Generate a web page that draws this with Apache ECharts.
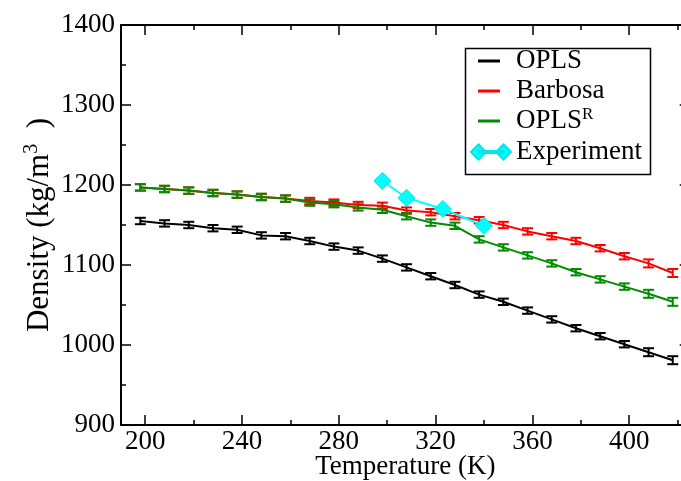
<!DOCTYPE html>
<html>
<head>
<meta charset="utf-8">
<script src="https://cdn.jsdelivr.net/npm/echarts@6/dist/echarts.min.js"></script>
<style>
html,body{margin:0;padding:0;background:#fff;}
#c{width:681px;height:481px;}
</style>
</head>
<body>
<div id="c"></div>
<script>
// ---- data ----
const temps = [198,208,218,228,238,248,258,268,278,288,298,308,318,328,338,348,358,368,378,388,398,408,418];
const oplsVals    = [1155,1152,1150,1146,1144,1137,1136,1130,1123,1118,1108,1097,1086,1075,1063,1054,1043,1032,1021,1011,1001,991,981];
const barbosaVals = [1197,1195,1193,1190,1188,1185,1183,1180,1178,1175,1174,1168,1166,1161,1156,1150,1142,1136,1130,1121,1111,1102,1090];
const oplsRVals   = [1197,1195,1193,1190,1188,1185,1183,1178,1176,1172,1169,1161,1153,1149,1132,1122,1112,1102,1091,1082,1073,1064,1054];
const oplsErr     = [4,4,4,4,4,4,4,4,4,4,4,4,4,4,4,4,4,4,4,4,4,5,5];
const barbosaErr  = [4,4,4,4,4,4,4,4,4,4,4,4,4,4,4,4,4,4,4,4,4,5,5];
const oplsRErr    = [4,4,4,4,4,4,4,4,4,4,4,4,4,4,4,4,4,4,4,4,4,5,5];
const expTemps = [298,308,323,340];
const expVals  = [1205,1184,1170,1149];
const xMajorTicks = [200,240,280,320,360,400];
const xMinorTicks = [220,260,300,340,380,420];
const seriesNames = ['OPLS','Barbosa','OPLS^R','Experiment'];

const FONT = 'Liberation Serif';
const chart = echarts.init(document.getElementById('c'), null, {renderer:'canvas'});

function lineData(xs, ys){ return xs.map((x,i)=>[x, ys[i]]); }
function errData(xs, ys, es){ return xs.map((x,i)=>[x, ys[i], es[i]]); }

function errSeries(name, xs, ys, es, color){
  return {
    type:'custom', name:name, data: errData(xs, ys, es),
    encode:{x:0, y:1}, silent:true, z:3,
    renderItem: function(params, api){
      const x = api.value(0), y = api.value(1), e = api.value(2);
      const t = api.coord([x, y + e]);
      const b = api.coord([x, y - e]);
      const hw = 5.5;
      const st = {stroke: color, lineWidth: 2, fill: null};
      return {type:'group', children:[
        {type:'line', shape:{x1:t[0], y1:t[1], x2:b[0], y2:b[1]}, style:st},
        {type:'line', shape:{x1:t[0]-hw, y1:t[1], x2:t[0]+hw, y2:t[1]}, style:st},
        {type:'line', shape:{x1:b[0]-hw, y1:b[1], x2:b[0]+hw, y2:b[1]}, style:st}
      ]};
    }
  };
}
function lineSeries(name, xs, ys, color){
  return {type:'line', name:name, data: lineData(xs, ys), symbol:'none',
    lineStyle:{color:color, width:2}, itemStyle:{color:color}, z:3, animation:false};
}

const axisLineStyle = {show:true, lineStyle:{color:'#000', width:2}};
const tickStyle = {color:'#000', width:1.5};

function xAx(pos, ticks, len, showLine, showLabel){
  return {
    type:'value', min:190, max:425, position:pos, offset:0,
    axisLine: showLine ? axisLineStyle : {show:false},
    axisTick:{show:true, inside:true, length:len, customValues:ticks, lineStyle:tickStyle},
    axisLabel: showLabel ? {show:true, customValues:ticks, fontFamily:FONT, fontSize:27, color:'#000', margin:3,
      formatter: v => String(v)} : {show:false},
    splitLine:{show:false}
  };
}
function yAx(pos, showLabel){
  return {
    type:'value', min:900, max:1400, interval:100, position:pos, offset:0,
    axisLine: axisLineStyle,
    axisTick:{show:true, inside:true, length:10, lineStyle:tickStyle},
    minorTick:{show:true, splitNumber:2, length:5, lineStyle:tickStyle},
    axisLabel: showLabel ? {show:true, fontFamily:FONT, fontSize:27, color:'#000', margin:6,
      formatter: v => String(v)} : {show:false},
    splitLine:{show:false}
  };
}

const xAxes = [
  Object.assign(xAx('bottom', xMajorTicks, 10, true, true), {
    name:'Temperature (K)', nameLocation:'middle', nameGap:28, nameMoveOverlap:false,
    nameTextStyle:{fontFamily:FONT, fontSize:27, color:'#000'}
  }),
  xAx('bottom', xMinorTicks, 5, false, false),
  xAx('top', xMajorTicks, 10, true, false),
  xAx('top', xMinorTicks, 5, false, false)
];
const yAxes = [
  Object.assign(yAx('left', true), {
    name:'Density (kg/m{sup|3}  )', nameLocation:'middle', nameGap:63, nameMoveOverlap:false,
    nameTextStyle:{fontFamily:FONT, fontSize:31, color:'#000',
      rich:{sup:{fontFamily:FONT, fontSize:20, color:'#000', verticalAlign:'top', padding:[0,0,16,0]}}}
  }),
  yAx('right', false)
];

const legendRich = {sup:{fontFamily:FONT, fontSize:17, color:'#000', verticalAlign:'top', padding:[0,0,10,0]}};

const option = {
  animation:false,
  backgroundColor:'#fff',
  grid:{left:121, top:25, width:568.7, height:400, containLabel:false, outerBoundsMode:'none'},
  xAxis: xAxes,
  yAxis: yAxes,
  legend:[
    {
      data: seriesNames.slice(0,3), orient:'vertical', left:478, top:46, padding:0,
      itemGap:0, itemWidth:22, itemHeight:3, icon:'rect',
      selectedMode:false,
      formatter: function(n){ return n.replace('^R','{sup|R}'); },
      textStyle:{fontFamily:FONT, fontSize:27, color:'#000', lineHeight:30, padding:[0,0,0,11], rich:legendRich}
    },
    {
      data:[{name: seriesNames[3], icon:'path://M0,7.5L7.5,0L15,7.5L7.5,15ZM7.5,6.5L32.5,6.5L32.5,8.5L7.5,8.5ZM25,7.5L32.5,0L40,7.5L32.5,15Z'}],
      orient:'vertical', left:470, top:137, padding:0, itemWidth:40, itemHeight:15,
      selectedMode:false,
      textStyle:{fontFamily:FONT, fontSize:27, color:'#000', lineHeight:30}
    }
  ],
  graphic:[{type:'rect', left:463, top:46, shape:{width:185, height:126},
    style:{fill:null, stroke:'#000', lineWidth:1.5}, z:100, silent:true}],
  series:[
    lineSeries(seriesNames[0], temps, oplsVals, '#000000'),
    errSeries('OPLS err', temps, oplsVals, oplsErr, '#000000'),
    lineSeries(seriesNames[1], temps, barbosaVals, '#ff0000'),
    errSeries('Barbosa err', temps, barbosaVals, barbosaErr, '#ff0000'),
    lineSeries(seriesNames[2], temps, oplsRVals, '#008b00'),
    errSeries('OPLSR err', temps, oplsRVals, oplsRErr, '#008b00'),
    {type:'line', name:seriesNames[3], data: lineData(expTemps, expVals),
      symbol:'diamond', symbolSize:17, showSymbol:true,
      lineStyle:{color:'#00ffff', width:2},
      itemStyle:{color:'#00ffff', borderColor:'#00e5e5', borderWidth:1}, z:4}
  ]
};
chart.setOption(option);
</script>
</body>
</html>
